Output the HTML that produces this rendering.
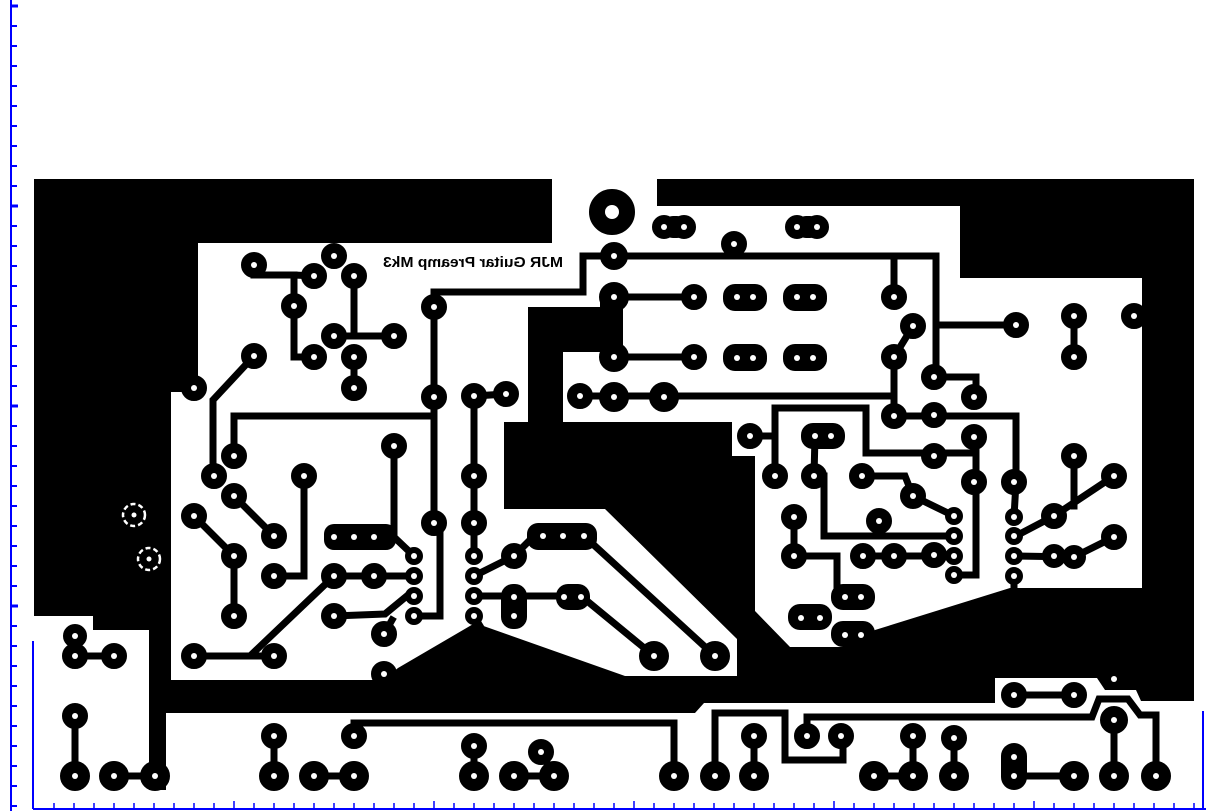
<!DOCTYPE html>
<html><head><meta charset="utf-8"><style>
html,body{margin:0;padding:0;background:#fff;}
svg{display:block}
</style></head><body>
<svg width="1206" height="811" viewBox="0 0 1206 811" xmlns="http://www.w3.org/2000/svg">
<rect width="1206" height="811" fill="#fff"/>
<g fill="#000">
<polygon points="34,179 552,179 552,243 198,243 198,392 171,392 171,680 383,680 398,668 475,623 625,676 737,676 737,639 605,509 504,509 504,422 528,422 528,307 623,307 623,352 563,352 563,422 732,422 732,456 755,456 755,611 790,647 850,647 875,630 1010,588 1142,588 1142,278 960,278 960,206 657,206 657,179 1194,179 1194,701 1141,701 1136,690 1105,690 1097,678 995,678 995,703 704,703 695,713 166,713 166,790 149,790 149,630 93,630 93,616 34,616"/>
</g>
<g fill="none" stroke="#000" stroke-width="7" stroke-linejoin="miter" stroke-linecap="square">
<polyline points="254,275 294,275 314,276"/>
<polyline points="294,275 294,357 314,357"/>
<polyline points="354,276 354,336"/>
<polyline points="334,336 394,336"/>
<polyline points="354,357 354,388"/>
<polyline points="254,356 213,400 213,476"/>
<polyline points="234,456 234,416 434,416"/>
<polyline points="434,307 434,523"/>
<polyline points="434,307 434,292 583,292 583,256 936,256 936,377"/>
<polyline points="734,244 734,256"/>
<polyline points="894,256 894,297"/>
<polyline points="936,325 1016,325"/>
<polyline points="440,523 440,616 414,616"/>
<polyline points="474,396 506,394"/>
<polyline points="474,396 474,556"/>
<polyline points="394,446 394,537 414,556"/>
<polyline points="304,476 304,576 274,576"/>
<polyline points="234,496 274,536"/>
<polyline points="194,516 234,556 234,616"/>
<polyline points="334,576 414,576"/>
<polyline points="194,656 250,656 334,576"/>
<polyline points="250,656 274,656"/>
<polyline points="334,616 385,614 408,595"/>
<polyline points="384,634 392,620"/>
<polyline points="474,576 514,556 530,540"/>
<polyline points="474,596 581,596"/>
<polyline points="584,536 715,656"/>
<polyline points="581,596 654,656"/>
<polyline points="474,616 480,626"/>
<polyline points="75,636 75,656 88,656 114,656"/>
<polyline points="75,716 75,776"/>
<polyline points="114,776 155,776"/>
<polyline points="274,736 274,776"/>
<polyline points="314,776 354,776"/>
<polyline points="354,736 354,723 674,723 674,776"/>
<polyline points="474,746 474,776"/>
<polyline points="514,776 554,776 541,752"/>
<polyline points="715,776 715,713 785,713 785,760 843,760 843,736"/>
<polyline points="807,736 807,717 1092,717 1099,699 1128,699 1140,715 1156,715 1156,776"/>
<polyline points="1114,720 1114,776"/>
<polyline points="754,736 754,776"/>
<polyline points="874,776 913,776 913,736"/>
<polyline points="954,738 954,776"/>
<polyline points="1014,776 1074,776"/>
<polyline points="1014,695 1074,695"/>
<polyline points="614,297 694,297"/>
<polyline points="614,357 694,357"/>
<polyline points="580,396 894,396"/>
<polyline points="894,357 894,416 1016,416 1016,482 1014,517"/>
<polyline points="894,357 913,326"/>
<polyline points="936,377 976,377 976,397"/>
<polyline points="750,436 775,436"/>
<polyline points="775,476 775,408 866,408 866,453 976,453"/>
<polyline points="976,437 976,575 954,575"/>
<polyline points="815,436 814,476 824,476 824,536 954,536"/>
<polyline points="862,476 905,476 913,496 954,516"/>
<polyline points="794,517 794,556 837,556 837,597 845,597"/>
<polyline points="863,556 954,556"/>
<polyline points="1014,556 1074,557 1114,537"/>
<polyline points="1014,537 1054,516 1114,476"/>
<polyline points="1074,456 1074,506"/>
<polyline points="1074,316 1074,357"/>
<polyline points="1014,576 1014,590"/>
<polyline points="155,776 155,700"/>
</g>
<g fill="#000">
<rect x="600" y="297" width="23" height="62"/>
<rect x="149" y="760" width="17" height="30"/>
<rect x="324" y="524" width="72" height="26" rx="10"/>
<rect x="527" y="523" width="70" height="27" rx="11"/>
<rect x="556" y="584" width="34" height="26" rx="12"/>
<rect x="501" y="584" width="26" height="45" rx="12"/>
<rect x="723" y="284" width="44" height="27" rx="12"/>
<rect x="783" y="284" width="44" height="27" rx="12"/>
<rect x="723" y="344" width="44" height="27" rx="12"/>
<rect x="783" y="344" width="44" height="27" rx="12"/>
<rect x="801" y="423" width="44" height="26" rx="12"/>
<rect x="831" y="584" width="44" height="26" rx="12"/>
<rect x="788" y="604" width="44" height="26" rx="12"/>
<rect x="831" y="621" width="44" height="26" rx="12"/>
<rect x="1001" y="743" width="26" height="47" rx="13"/>
<rect x="662" y="216" width="26" height="22" rx="11"/>
<rect x="795" y="216" width="26" height="22" rx="11"/>
</g>
<g fill="#000" stroke="#000" stroke-width="2">
<circle cx="612" cy="212" r="22"/>
<circle cx="664" cy="227" r="11"/><circle cx="684" cy="227" r="11"/>
<circle cx="797" cy="227" r="11"/><circle cx="817" cy="227" r="11"/>
<circle cx="734" cy="244" r="12"/>
<circle cx="254" cy="265" r="12"/><circle cx="334" cy="256" r="12"/><circle cx="314" cy="276" r="12"/><circle cx="354" cy="276" r="12"/>
<circle cx="294" cy="306" r="12"/><circle cx="334" cy="336" r="12"/><circle cx="394" cy="336" r="12"/>
<circle cx="254" cy="356" r="12"/><circle cx="314" cy="357" r="12"/><circle cx="354" cy="357" r="12"/><circle cx="354" cy="388" r="12"/>
<circle cx="194" cy="388" r="12"/>
<circle cx="434" cy="307" r="12"/><circle cx="434" cy="397" r="12"/>
<circle cx="474" cy="396" r="12"/><circle cx="506" cy="394" r="12"/>
<circle cx="234" cy="456" r="12"/><circle cx="214" cy="476" r="12"/><circle cx="394" cy="446" r="12"/><circle cx="304" cy="476" r="12"/><circle cx="474" cy="476" r="12"/>
<circle cx="234" cy="496" r="12"/><circle cx="194" cy="516" r="12"/><circle cx="274" cy="536" r="12"/><circle cx="434" cy="523" r="12"/><circle cx="474" cy="523" r="12"/>
<circle cx="234" cy="556" r="12"/><circle cx="274" cy="576" r="12"/><circle cx="334" cy="576" r="12"/><circle cx="374" cy="576" r="12"/>
<circle cx="234" cy="616" r="12"/><circle cx="334" cy="616" r="12"/><circle cx="384" cy="634" r="12"/>
<circle cx="194" cy="656" r="12"/><circle cx="274" cy="656" r="12"/><circle cx="384" cy="674" r="12"/>
<circle cx="414" cy="556" r="8"/><circle cx="414" cy="576" r="8"/><circle cx="414" cy="596" r="8"/><circle cx="414" cy="616" r="8"/>
<circle cx="474" cy="556" r="8"/><circle cx="474" cy="576" r="8"/><circle cx="474" cy="596" r="8"/><circle cx="474" cy="616" r="8"/>
<circle cx="514" cy="556" r="12"/>
<circle cx="654" cy="656" r="14"/><circle cx="715" cy="656" r="14"/>
<circle cx="75" cy="636" r="11"/><circle cx="75" cy="656" r="12"/><circle cx="114" cy="656" r="12"/>
<circle cx="75" cy="716" r="12"/><circle cx="75" cy="776" r="14"/><circle cx="114" cy="776" r="14"/><circle cx="155" cy="776" r="14"/>
<circle cx="274" cy="736" r="12"/><circle cx="274" cy="776" r="14"/><circle cx="314" cy="776" r="14"/><circle cx="354" cy="776" r="14"/><circle cx="354" cy="736" r="12"/>
<circle cx="474" cy="746" r="12"/><circle cx="474" cy="776" r="14"/><circle cx="514" cy="776" r="14"/><circle cx="541" cy="752" r="12"/><circle cx="554" cy="776" r="14"/>
<circle cx="674" cy="776" r="14"/><circle cx="715" cy="776" r="14"/><circle cx="754" cy="736" r="12"/><circle cx="754" cy="776" r="14"/>
<circle cx="807" cy="736" r="12"/><circle cx="841" cy="736" r="12"/>
<circle cx="913" cy="736" r="12"/><circle cx="913" cy="776" r="14"/><circle cx="874" cy="776" r="14"/>
<circle cx="954" cy="738" r="12"/><circle cx="954" cy="776" r="14"/>
<circle cx="1074" cy="776" r="14"/><circle cx="1114" cy="720" r="13"/><circle cx="1114" cy="776" r="14"/><circle cx="1156" cy="776" r="14"/>
<circle cx="1014" cy="695" r="12"/><circle cx="1074" cy="695" r="12"/>
<circle cx="614" cy="256" r="13"/><circle cx="614" cy="297" r="14"/><circle cx="694" cy="297" r="12"/><circle cx="894" cy="297" r="12"/>
<circle cx="614" cy="357" r="14"/><circle cx="694" cy="357" r="12"/><circle cx="894" cy="357" r="12"/><circle cx="913" cy="326" r="12"/>
<circle cx="1016" cy="325" r="12"/><circle cx="1074" cy="316" r="12"/><circle cx="1074" cy="357" r="12"/><circle cx="1134" cy="316" r="12"/>
<circle cx="580" cy="396" r="12"/><circle cx="614" cy="397" r="14"/><circle cx="664" cy="397" r="14"/>
<circle cx="934" cy="377" r="12"/><circle cx="974" cy="397" r="12"/>
<circle cx="894" cy="416" r="12"/><circle cx="934" cy="415" r="12"/>
<circle cx="750" cy="436" r="12"/><circle cx="974" cy="437" r="12"/><circle cx="934" cy="456" r="12"/>
<circle cx="775" cy="476" r="12"/><circle cx="814" cy="476" r="12"/><circle cx="862" cy="476" r="12"/><circle cx="974" cy="482" r="12"/><circle cx="1014" cy="482" r="12"/>
<circle cx="913" cy="496" r="12"/><circle cx="794" cy="517" r="12"/><circle cx="879" cy="521" r="12"/>
<circle cx="794" cy="556" r="12"/><circle cx="863" cy="556" r="12"/><circle cx="894" cy="556" r="12"/><circle cx="934" cy="555" r="12"/>
<circle cx="954" cy="516" r="8"/><circle cx="954" cy="536" r="8"/><circle cx="954" cy="556" r="8"/><circle cx="954" cy="575" r="8"/>
<circle cx="1014" cy="517" r="8"/><circle cx="1014" cy="536" r="8"/><circle cx="1014" cy="556" r="8"/><circle cx="1014" cy="576" r="8"/>
<circle cx="1074" cy="456" r="12"/><circle cx="1114" cy="476" r="12"/><circle cx="1054" cy="516" r="12"/><circle cx="1114" cy="537" r="12"/>
<circle cx="1054" cy="556" r="11"/><circle cx="1074" cy="557" r="11"/>
</g>
<g fill="#fff">
<circle cx="612" cy="212" r="7"/>
<g>
<circle cx="664" cy="227" r="3"/><circle cx="684" cy="227" r="3"/><circle cx="797" cy="227" r="3"/><circle cx="817" cy="227" r="3"/>
<circle cx="734" cy="244" r="3"/>
<circle cx="254" cy="265" r="3"/><circle cx="334" cy="256" r="3"/><circle cx="314" cy="276" r="3"/><circle cx="354" cy="276" r="3"/>
<circle cx="294" cy="306" r="3"/><circle cx="334" cy="336" r="3"/><circle cx="394" cy="336" r="3"/>
<circle cx="254" cy="356" r="3"/><circle cx="314" cy="357" r="3"/><circle cx="354" cy="357" r="3"/><circle cx="354" cy="388" r="3"/>
<circle cx="194" cy="388" r="3"/>
<circle cx="434" cy="307" r="3"/><circle cx="434" cy="397" r="3"/>
<circle cx="474" cy="396" r="3"/><circle cx="506" cy="394" r="3"/>
<circle cx="234" cy="456" r="3"/><circle cx="214" cy="476" r="3"/><circle cx="394" cy="446" r="3"/><circle cx="304" cy="476" r="3"/><circle cx="474" cy="476" r="3"/>
<circle cx="234" cy="496" r="3"/><circle cx="194" cy="516" r="3"/><circle cx="274" cy="536" r="3"/><circle cx="434" cy="523" r="3"/><circle cx="474" cy="523" r="3"/>
<circle cx="334" cy="537" r="3"/><circle cx="354" cy="537" r="3"/><circle cx="374" cy="537" r="3"/>
<circle cx="543" cy="536" r="3"/><circle cx="563" cy="536" r="3"/><circle cx="584" cy="536" r="3"/>
<circle cx="564" cy="597" r="3"/><circle cx="581" cy="597" r="3"/><circle cx="514" cy="597" r="3"/><circle cx="514" cy="616" r="3"/>
<circle cx="234" cy="556" r="3"/><circle cx="274" cy="576" r="3"/><circle cx="334" cy="576" r="3"/><circle cx="374" cy="576" r="3"/>
<circle cx="234" cy="616" r="3"/><circle cx="334" cy="616" r="3"/><circle cx="384" cy="634" r="3"/>
<circle cx="194" cy="656" r="3"/><circle cx="274" cy="656" r="3"/><circle cx="384" cy="674" r="3"/>
<circle cx="414" cy="556" r="3"/><circle cx="414" cy="576" r="3"/><circle cx="414" cy="596" r="3"/><circle cx="414" cy="616" r="3"/>
<circle cx="474" cy="556" r="3"/><circle cx="474" cy="576" r="3"/><circle cx="474" cy="596" r="3"/><circle cx="474" cy="616" r="3"/>
<circle cx="514" cy="556" r="3"/>
<circle cx="654" cy="656" r="3"/><circle cx="715" cy="656" r="3"/>
<circle cx="75" cy="636" r="3"/><circle cx="75" cy="656" r="3"/><circle cx="114" cy="656" r="3"/>
<circle cx="75" cy="716" r="3"/><circle cx="75" cy="776" r="3"/><circle cx="114" cy="776" r="3"/><circle cx="155" cy="776" r="3"/>
<circle cx="274" cy="736" r="3"/><circle cx="274" cy="776" r="3"/><circle cx="314" cy="776" r="3"/><circle cx="354" cy="776" r="3"/><circle cx="354" cy="736" r="3"/>
<circle cx="474" cy="746" r="3"/><circle cx="474" cy="776" r="3"/><circle cx="514" cy="776" r="3"/><circle cx="541" cy="752" r="3"/><circle cx="554" cy="776" r="3"/>
<circle cx="674" cy="776" r="3"/><circle cx="715" cy="776" r="3"/><circle cx="754" cy="736" r="3"/><circle cx="754" cy="776" r="3"/>
<circle cx="807" cy="736" r="3"/><circle cx="841" cy="736" r="3"/>
<circle cx="913" cy="736" r="3"/><circle cx="913" cy="776" r="3"/><circle cx="874" cy="776" r="3"/>
<circle cx="954" cy="738" r="3"/><circle cx="954" cy="776" r="3"/>
<circle cx="1014" cy="757" r="3"/><circle cx="1014" cy="776" r="3"/>
<circle cx="1074" cy="776" r="3"/><circle cx="1114" cy="720" r="3"/><circle cx="1114" cy="776" r="3"/><circle cx="1156" cy="776" r="3"/>
<circle cx="1014" cy="695" r="3"/><circle cx="1074" cy="695" r="3"/><circle cx="1114" cy="679" r="3"/>
<circle cx="614" cy="256" r="3"/><circle cx="614" cy="297" r="3"/><circle cx="694" cy="297" r="3"/><circle cx="894" cy="297" r="3"/>
<circle cx="737" cy="297" r="3"/><circle cx="753" cy="297" r="3"/><circle cx="797" cy="297" r="3"/><circle cx="813" cy="297" r="3"/>
<circle cx="737" cy="358" r="3"/><circle cx="753" cy="358" r="3"/><circle cx="797" cy="358" r="3"/><circle cx="813" cy="358" r="3"/>
<circle cx="614" cy="357" r="3"/><circle cx="694" cy="357" r="3"/><circle cx="894" cy="357" r="3"/><circle cx="913" cy="326" r="3"/>
<circle cx="1016" cy="325" r="3"/><circle cx="1074" cy="316" r="3"/><circle cx="1074" cy="357" r="3"/><circle cx="1134" cy="316" r="3"/>
<circle cx="580" cy="396" r="3"/><circle cx="614" cy="397" r="3"/><circle cx="664" cy="397" r="3"/>
<circle cx="934" cy="377" r="3"/><circle cx="974" cy="397" r="3"/>
<circle cx="894" cy="416" r="3"/><circle cx="934" cy="415" r="3"/>
<circle cx="750" cy="436" r="3"/><circle cx="815" cy="436" r="3"/><circle cx="831" cy="436" r="3"/><circle cx="974" cy="437" r="3"/><circle cx="934" cy="456" r="3"/>
<circle cx="775" cy="476" r="3"/><circle cx="814" cy="476" r="3"/><circle cx="862" cy="476" r="3"/><circle cx="974" cy="482" r="3"/><circle cx="1014" cy="482" r="3"/>
<circle cx="913" cy="496" r="3"/><circle cx="794" cy="517" r="3"/><circle cx="879" cy="521" r="3"/>
<circle cx="794" cy="556" r="3"/><circle cx="863" cy="556" r="3"/><circle cx="894" cy="556" r="3"/><circle cx="934" cy="555" r="3"/>
<circle cx="954" cy="516" r="3"/><circle cx="954" cy="536" r="3"/><circle cx="954" cy="556" r="3"/><circle cx="954" cy="575" r="3"/>
<circle cx="1014" cy="517" r="3"/><circle cx="1014" cy="536" r="3"/><circle cx="1014" cy="556" r="3"/><circle cx="1014" cy="576" r="3"/>
<circle cx="1074" cy="456" r="3"/><circle cx="1114" cy="476" r="3"/><circle cx="1054" cy="516" r="3"/><circle cx="1114" cy="537" r="3"/>
<circle cx="1054" cy="556" r="3"/><circle cx="1074" cy="557" r="3"/>
<circle cx="845" cy="597" r="3"/><circle cx="861" cy="597" r="3"/>
<circle cx="801" cy="618" r="3"/><circle cx="820" cy="618" r="3"/>
<circle cx="845" cy="635" r="3"/><circle cx="861" cy="635" r="3"/>
</g>
</g>
<g fill="none" stroke="#fff" stroke-width="2.5" stroke-dasharray="5 3">
<circle cx="134" cy="515" r="11"/><circle cx="149" cy="559" r="11"/>
</g>
<g fill="#fff"><circle cx="134" cy="515" r="2.5"/><circle cx="149" cy="559" r="2.5"/></g>
<text transform="translate(946,0) scale(-1,1)" x="383" y="267" font-family="Liberation Sans, Arial, sans-serif" font-size="15" font-weight="600" textLength="180" lengthAdjust="spacingAndGlyphs" fill="#000">MJR Guitar Preamp Mk3</text>
<g stroke="#00f" stroke-width="2" fill="none">
<line x1="11" y1="0" x2="11" y2="811"/>
<line x1="33" y1="809" x2="1206" y2="809"/>
<line x1="33" y1="641" x2="33" y2="809"/>
<line x1="1203" y1="711" x2="1203" y2="809"/>
<path d="M11 26h6M11 46h6M11 66h6M11 86h6M11 106h6M11 126h6M11 146h6M11 166h6M11 186h6M11 226h6M11 246h6M11 266h6M11 286h6M11 306h6M11 326h6M11 346h6M11 366h6M11 386h6M11 426h6M11 446h6M11 466h6M11 486h6M11 506h6M11 526h6M11 546h6M11 566h6M11 586h6M11 626h6M11 646h6M11 666h6M11 686h6M11 706h6M11 726h6M11 746h6M11 766h6M11 786h6M11 806h6"/>
<path d="M11 6h7M11 206h7M11 406h7M11 606h7" stroke-width="3"/>
</g>
<g stroke="#00f" stroke-width="1.5">
<path d="M54 809v-6M74 809v-6M94 809v-6M114 809v-6M134 809v-6M154 809v-6M174 809v-6M194 809v-6M214 809v-6M234 809v-8M254 809v-6M274 809v-6M294 809v-6M314 809v-6M334 809v-6M354 809v-6M374 809v-6M394 809v-6M414 809v-6M434 809v-8M454 809v-6M474 809v-6M494 809v-6M514 809v-6M534 809v-6M554 809v-6M574 809v-6M594 809v-6M614 809v-6M634 809v-8M654 809v-6M674 809v-6M694 809v-6M714 809v-6M734 809v-6M754 809v-6M774 809v-6M794 809v-6M814 809v-6M834 809v-8M854 809v-6M874 809v-6M894 809v-6M914 809v-6M934 809v-6M954 809v-6M974 809v-6M994 809v-6M1014 809v-6M1034 809v-8M1054 809v-6M1074 809v-6M1094 809v-6M1114 809v-6M1134 809v-6M1154 809v-6M1174 809v-6M1194 809v-6"/>
</g>
</svg>
</body></html>
